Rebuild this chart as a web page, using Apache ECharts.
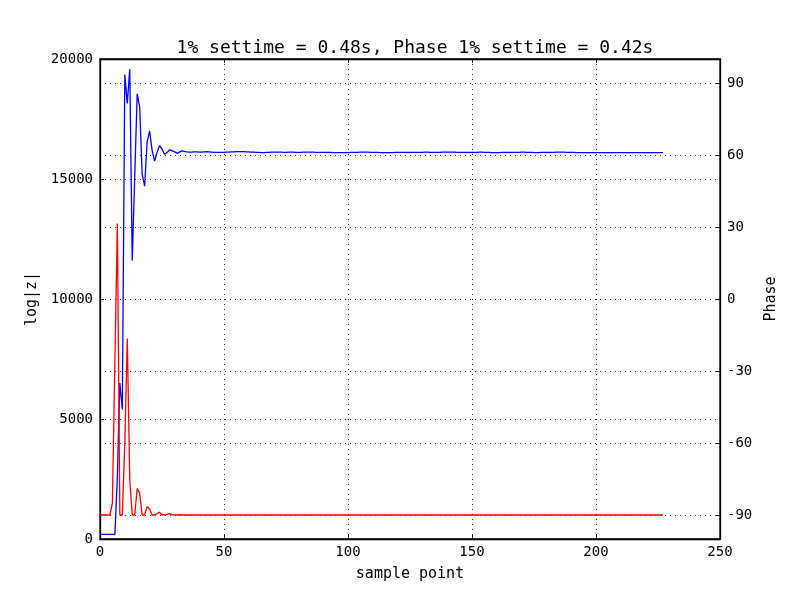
<!DOCTYPE html>
<html>
<head>
<meta charset="utf-8">
<script src="https://cdn.jsdelivr.net/npm/echarts@6/dist/echarts.min.js"></script>
<style>
  html, body { margin: 0; padding: 0; background: #fff; }
  #chart { width: 800px; height: 600px; }
</style>
</head>
<body>
<div id="chart"></div>
<script>
// log|z| per sample point (left axis)
var magValues = [
  190, 190, 190, 190, 190, 190, 190, 2600, 6500, 5400,
  19350, 18150, 19580, 11600, 15100, 18550, 18000, 15200, 14700, 16550,
  17000, 16200, 15750, 16100, 16390, 16250, 16030, 16100, 16210, 16180,
  16140, 16070, 16120, 16170, 16150, 16130, 16120, 16120, 16130, 16130,
  16120, 16120, 16130, 16140, 16130, 16120, 16110, 16110, 16110, 16110,
  16110, 16120, 16120, 16130, 16130, 16140, 16140, 16140, 16140, 16130,
  16130, 16120, 16120, 16110, 16110, 16100, 16100, 16110, 16110, 16120,
  16120, 16120, 16120, 16120, 16110, 16110, 16120, 16120, 16120, 16110,
  16110, 16110, 16120, 16120, 16120, 16120, 16120, 16110, 16110, 16110,
  16110, 16110, 16110, 16110, 16100, 16100, 16100, 16100, 16100, 16100,
  16100, 16110, 16110, 16110, 16110, 16120, 16120, 16120, 16120, 16110,
  16110, 16110, 16110, 16100, 16100, 16100, 16100, 16100, 16100, 16110,
  16110, 16110, 16110, 16110, 16110, 16110, 16110, 16110, 16110, 16110,
  16110, 16120, 16120, 16110, 16110, 16110, 16110, 16110, 16120, 16120,
  16120, 16120, 16120, 16120, 16110, 16110, 16110, 16110, 16110, 16110,
  16110, 16110, 16110, 16120, 16120, 16110, 16110, 16110, 16100, 16100,
  16100, 16100, 16110, 16110, 16110, 16110, 16110, 16110, 16110, 16110,
  16120, 16120, 16110, 16110, 16110, 16100, 16100, 16100, 16110, 16110,
  16110, 16110, 16110, 16110, 16120, 16120, 16120, 16120, 16110, 16110,
  16110, 16110, 16100, 16100, 16100, 16100, 16100, 16100, 16100, 16100,
  16100, 16100, 16100, 16100, 16100, 16100, 16100, 16100, 16100, 16100,
  16100, 16100, 16100, 16100, 16100, 16100, 16100, 16100, 16100, 16100,
  16100, 16100, 16100, 16100, 16100, 16100, 16100, 16100
];

// Phase per sample point (right axis)
var phaseValues = [
  -90, -90, -90, -90, -90, -85, -26, 31.5, -90, -90,
  -60, -16.5, -75, -90, -90, -79, -81, -90, -90, -86.5,
  -87.5, -90, -90, -89.5, -88.8, -90, -90, -89.7, -89.4, -89.8,
  -90, -90, -89.9, -90, -90, -90, -90, -90, -90, -90,
  -90, -90, -90, -90, -90, -90, -90, -90, -90, -90,
  -90, -90, -90, -90, -90, -90, -90, -90, -90, -90,
  -90, -90, -90, -90, -90, -90, -90, -90, -90, -90,
  -90, -90, -90, -90, -90, -90, -90, -90, -90, -90,
  -90, -90, -90, -90, -90, -90, -90, -90, -90, -90,
  -90, -90, -90, -90, -90, -90, -90, -90, -90, -90,
  -90, -90, -90, -90, -90, -90, -90, -90, -90, -90,
  -90, -90, -90, -90, -90, -90, -90, -90, -90, -90,
  -90, -90, -90, -90, -90, -90, -90, -90, -90, -90,
  -90, -90, -90, -90, -90, -90, -90, -90, -90, -90,
  -90, -90, -90, -90, -90, -90, -90, -90, -90, -90,
  -90, -90, -90, -90, -90, -90, -90, -90, -90, -90,
  -90, -90, -90, -90, -90, -90, -90, -90, -90, -90,
  -90, -90, -90, -90, -90, -90, -90, -90, -90, -90,
  -90, -90, -90, -90, -90, -90, -90, -90, -90, -90,
  -90, -90, -90, -90, -90, -90, -90, -90, -90, -90,
  -90, -90, -90, -90, -90, -90, -90, -90, -90, -90,
  -90, -90, -90, -90, -90, -90, -90, -90, -90, -90,
  -90, -90, -90, -90, -90, -90, -90, -90
];

var phaseTicks = [-90, -60, -30, 0, 30, 60, 90];
var titleText = '1% settime = 0.48s, Phase 1% settime = 0.42s';

var font = 'DejaVu Sans Mono';
var gridLine = { show: true, lineStyle: { color: '#000', width: 1, type: [1, 4], opacity: 0.8 } };
var axisLine = { show: true, onZero: false, lineStyle: { color: '#000', width: 1.3 } };

var chart = echarts.init(document.getElementById('chart'));

chart.setOption({
  animation: false,
  title: {
    text: titleText,
    left: 410,
    textAlign: 'center',
    top: 34,
    textStyle: { fontFamily: font, fontSize: 18, fontWeight: 'normal', color: '#000' }
  },
  grid: {
    left: 100,
    right: 80,
    top: 59,
    bottom: 61,
    show: true,
    borderColor: '#000',
    borderWidth: 1.3,
    backgroundColor: '#fff'
  },
  xAxis: [{
    type: 'value',
    position: 'bottom',
    min: 0,
    max: 250,
    interval: 50,
    name: 'sample point',
    nameLocation: 'middle',
    nameGap: 28,
    nameTextStyle: { fontFamily: font, fontSize: 15, color: '#000' },
    axisLine: axisLine,
    axisTick: { inside: true, length: 4, lineStyle: { color: '#000' } },
    axisLabel: { margin: 6, fontFamily: font, fontSize: 14, color: '#000' },
    splitLine: gridLine
  }, {
    type: 'value',
    position: 'top',
    min: 0,
    max: 250,
    interval: 50,
    axisLine: axisLine,
    axisTick: { inside: true, length: 4, lineStyle: { color: '#000' } },
    axisLabel: { show: false },
    splitLine: { show: false }
  }],
  yAxis: [{
    type: 'value',
    position: 'left',
    min: 0,
    max: 20000,
    interval: 5000,
    name: 'log|z|',
    nameLocation: 'middle',
    nameGap: 51,
    nameTextStyle: { fontFamily: font, fontSize: 15, color: '#000' },
    axisLine: axisLine,
    axisTick: { show: true, inside: true, length: 4, lineStyle: { color: '#000' } },
    axisLabel: {
      margin: 7, fontFamily: font, fontSize: 14, color: '#000',
      formatter: function (v) { return String(v); }
    },
    splitLine: gridLine
  }, {
    type: 'value',
    position: 'right',
    min: -100,
    max: 100,
    name: 'Phase',
    nameLocation: 'middle',
    nameGap: 34,
    nameRotate: 90,
    nameTextStyle: { fontFamily: font, fontSize: 15, color: '#000' },
    axisLine: axisLine,
    axisTick: { show: true, inside: true, length: 4, customValues: phaseTicks, lineStyle: { color: '#000' } },
    axisLabel: { margin: 7, customValues: phaseTicks, fontFamily: font, fontSize: 14, color: '#000' },
    splitLine: gridLine
  }],
  series: [{
    name: 'log|z|',
    type: 'line',
    xAxisIndex: 0,
    yAxisIndex: 0,
    showSymbol: false,
    lineStyle: { color: '#0000ff', width: 1.3 },
    itemStyle: { color: '#0000ff' },
    data: magValues.map(function (v, i) { return [i, v]; })
  }, {
    name: 'Phase',
    type: 'line',
    xAxisIndex: 0,
    yAxisIndex: 1,
    showSymbol: false,
    lineStyle: { color: '#ff0000', width: 1.3 },
    itemStyle: { color: '#ff0000' },
    data: phaseValues.map(function (v, i) { return [i, v]; })
  }]
});
</script>
</body>
</html>
